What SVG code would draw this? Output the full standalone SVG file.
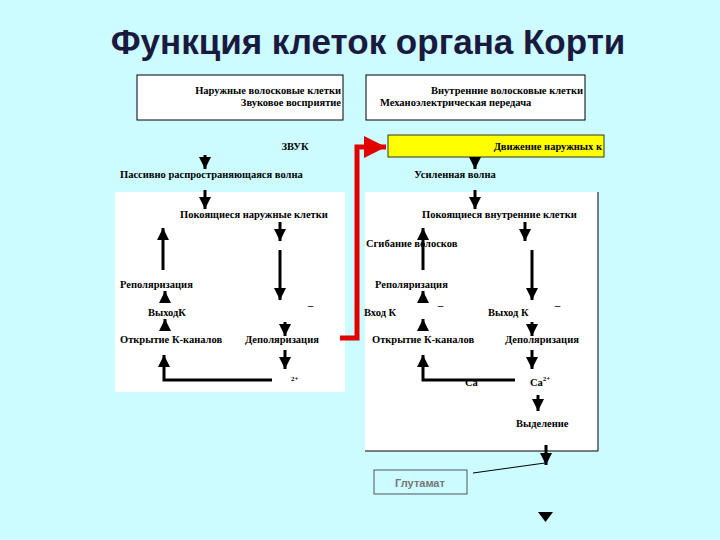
<svg xmlns="http://www.w3.org/2000/svg" width="720" height="540" viewBox="0 0 720 540">
<defs>
<marker id="ah" viewBox="0 0 10 10" refX="10" refY="5" markerWidth="4.8" markerHeight="4" orient="auto" markerUnits="strokeWidth"><path d="M0,0L10,5L0,10z" fill="#000"/></marker>
<marker id="rh" viewBox="0 0 10 10" refX="10" refY="5" markerWidth="5" markerHeight="4.4" orient="auto" markerUnits="strokeWidth"><path d="M0,0L10,5L0,10z" fill="#e00000"/></marker>
</defs>
<style>
text{font-family:"Liberation Serif",serif;font-size:10.5px;fill:#000;font-weight:bold}
.a{stroke:#000;stroke-width:3;fill:none;marker-end:url(#ah)}
.box{fill:#fff;stroke:#000;stroke-width:1}
</style>
<rect width="720" height="540" fill="#ccfcff"/>
<text x="368" y="54" text-anchor="middle" style="font-family:'Liberation Sans',sans-serif;font-size:35px;font-weight:bold;fill:#1a1a40">Функция клеток органа Корти</text>
<g id="top-left"><rect class="box" x="137" y="75" width="206" height="45"/>
<text x="341" y="94" text-anchor="end">Наружные волосковые клетки</text><text x="341" y="106" text-anchor="end">Звуковое восприятие</text></g>
<g id="top-right"><rect class="box" x="366" y="75" width="219" height="45"/>
<text x="583" y="94" text-anchor="end">Внутренние волосковые клетки</text><text x="380" y="106">Механоэлектрическая передача</text></g>
<g id="panels"><rect x="115" y="192" width="230" height="200" fill="#fff"/>
<rect x="365" y="192" width="233" height="259" fill="#fff"/>
<path d="M598,192V451H365" stroke="#000" stroke-width="1" fill="none"/></g>
<g id="yellow"><rect x="388" y="135" width="216" height="22" fill="#ffff00" stroke="#000" stroke-width="0.8"/>
<text x="602" y="150" text-anchor="end">Движение наружных к</text></g>
<g id="labels">
<text x="295" y="150" text-anchor="middle">ЗВУК</text>
<text x="120" y="178">Пассивно распространяющаяся волна</text>
<text x="455" y="178" text-anchor="middle">Усиленная волна</text>
<text x="180" y="218">Покоящиеся наружные клетки</text>
<text x="422" y="218">Покоящиеся внутренние клетки</text>
<text x="366" y="247">Сгибание волосков</text>
<text x="120" y="288">Реполяризация</text>
<text x="375" y="288">Реполяризация</text>
<text x="148" y="316">ВыходК</text>
<text x="308" y="309">–</text>
<text x="364" y="316">Вход К</text>
<text x="438" y="309">–</text>
<text x="488" y="316">Выход К</text>
<text x="555" y="309">–</text>
<text x="120" y="343">Открытие К-каналов</text>
<text x="245" y="343">Деполяризация</text>
<text x="372" y="343">Открытие К-каналов</text>
<text x="505" y="343">Деполяризация</text>
<text x="291" y="381" style="font-size:7px">2+</text>
<text x="465" y="386">Ca</text>
<text x="530" y="386">Ca<tspan dy="-5" style="font-size:7px">2+</tspan></text>
<text x="516" y="427">Выделение</text>
</g>
<g id="glutamat"><rect x="374" y="470" width="93" height="24" fill="none" stroke="#555" stroke-width="1"/>
<text x="420" y="487" text-anchor="middle" style="font-family:'Liberation Sans',sans-serif;font-weight:bold;font-size:11px;fill:#777">Глутамат</text></g>
<g id="connectors">
<path d="M340,338H357V147H386" stroke="#e00000" stroke-width="5" fill="none" marker-end="url(#rh)"/>
<path class="a" d="M205,155V169"/>
<path class="a" d="M475,157V169"/>
<path class="a" d="M205,190V209"/>
<path class="a" d="M475,190V209"/>
<path class="a" d="M280,222V241"/>
<path class="a" d="M280,250V300"/>
<path class="a" d="M163,270V228"/>
<path class="a" d="M165,302V291"/>
<path class="a" d="M165,330V319"/>
<path class="a" d="M285,322V336"/>
<path class="a" d="M285,350V369"/>
<path class="a" d="M272,380H164V355"/>
<path class="a" d="M423,270V228"/>
<path class="a" d="M525,222V241"/>
<path class="a" d="M532,250V300"/>
<path class="a" d="M423,302V291"/>
<path class="a" d="M423,330V319"/>
<path class="a" d="M532,322V336"/>
<path class="a" d="M532,350V369"/>
<path class="a" d="M515,380H423V355"/>
<path class="a" d="M538,395V411"/>
<path class="a" d="M546,445V465"/>
<path d="M473,473L545,463" stroke="#000" stroke-width="1"/>
<path d="M538,512H553L545.5,522z" fill="#000"/>
</g>
</svg>
